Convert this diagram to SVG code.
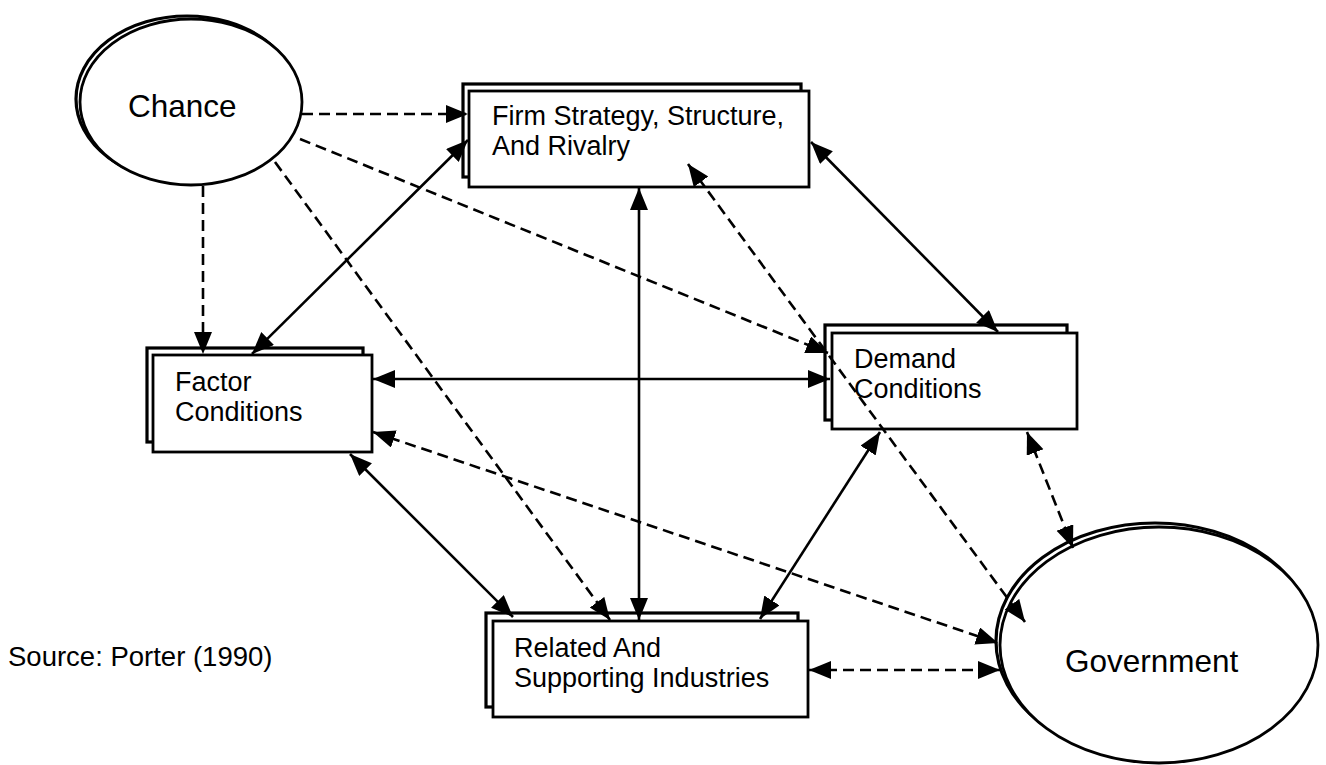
<svg xmlns="http://www.w3.org/2000/svg" width="1326" height="765" viewBox="0 0 1326 765">
<defs>
<style>
.bg{fill:#fff}
.shadow{fill:#fff;stroke:#000;stroke-width:3.2}
.main{fill:#fff;stroke:#000;stroke-width:2.8}
.lbl{font-family:"Liberation Sans",Arial,sans-serif;font-size:27px;fill:#000}
.big{font-family:"Liberation Sans",Arial,sans-serif;font-size:31.5px;fill:#000}
.src{font-family:"Liberation Sans",Arial,sans-serif;font-size:27.5px;fill:#000}
.solid{fill:none;stroke:#000;stroke-width:2.6;marker-end:url(#ah);marker-start:url(#ah)}
.dash{fill:none;stroke:#000;stroke-width:2.6;stroke-dasharray:11 6;marker-end:url(#ah)}
.dash2{marker-start:url(#ah)}
</style>
<marker id="ah" markerUnits="userSpaceOnUse" markerWidth="24" markerHeight="20" refX="22" refY="9" orient="auto-start-reverse" viewBox="0 0 24 20">
<path d="M0,0 L22,9 L0,18 Z" fill="#000"/>
</marker>
</defs>
<rect class="bg" x="0" y="0" width="1326" height="765"/>

<g id="chance">
<ellipse class="shadow" cx="187" cy="99" rx="111" ry="83"/>
<ellipse class="main" cx="191" cy="102" rx="111" ry="83"/>
<text class="big" x="128" y="117">Chance</text>
</g>

<g id="firm">
<rect class="shadow" x="463" y="84" width="338" height="93"/>
<rect class="main" x="469" y="91" width="340" height="96"/>
<text class="lbl" x="492" y="125">Firm Strategy, Structure,</text>
<text class="lbl" x="492" y="155">And Rivalry</text>
</g>

<g id="factor">
<rect class="shadow" x="147" y="348" width="216" height="94"/>
<rect class="main" x="153" y="355" width="219" height="97"/>
<text class="lbl" x="175" y="391">Factor</text>
<text class="lbl" x="175" y="421">Conditions</text>
</g>

<g id="demand">
<rect class="shadow" x="825" y="325" width="242" height="95"/>
<rect class="main" x="832" y="333" width="245" height="96"/>
<text class="lbl" x="854" y="368">Demand</text>
<text class="lbl" x="854" y="398">Conditions</text>
</g>

<g id="related">
<rect class="shadow" x="486" y="613" width="312" height="94"/>
<rect class="main" x="493" y="621" width="315" height="96"/>
<text class="lbl" x="514" y="657">Related And</text>
<text class="lbl" x="514" y="687">Supporting Industries</text>
</g>

<g id="government">
<ellipse class="shadow" cx="1155" cy="641" rx="159" ry="118"/>
<ellipse class="main" cx="1159" cy="645" rx="159" ry="118"/>
<text class="big" x="1065" y="672">Government</text>
</g>

<g id="source">
<text class="src" x="8" y="666">Source: Porter (1990)</text>
</g>

<g id="connectors">
<line class="dash" x1="302" y1="114" x2="468" y2="114"/>
<line class="dash" x1="203" y1="186" x2="203" y2="354"/>
<line class="dash" x1="300" y1="139" x2="828" y2="353"/>
<line class="dash" x1="275" y1="162" x2="610" y2="620"/>
<line class="solid" x1="468" y1="140" x2="252" y2="354"/>
<line class="solid" x1="639" y1="188" x2="639" y2="620"/>
<line class="solid" x1="811" y1="142" x2="998" y2="332"/>
<line class="dash dash2" x1="688" y1="164" x2="1025" y2="622"/>
<line class="solid" x1="373" y1="379" x2="830" y2="379"/>
<line class="dash dash2" x1="373" y1="432" x2="998" y2="643"/>
<line class="solid" x1="350" y1="454" x2="513" y2="617"/>
<line class="solid" x1="760" y1="619" x2="880" y2="432"/>
<line class="dash dash2" x1="809" y1="670" x2="1000" y2="670"/>
<line class="dash dash2" x1="1027" y1="432" x2="1073" y2="548"/>
</g>
</svg>
